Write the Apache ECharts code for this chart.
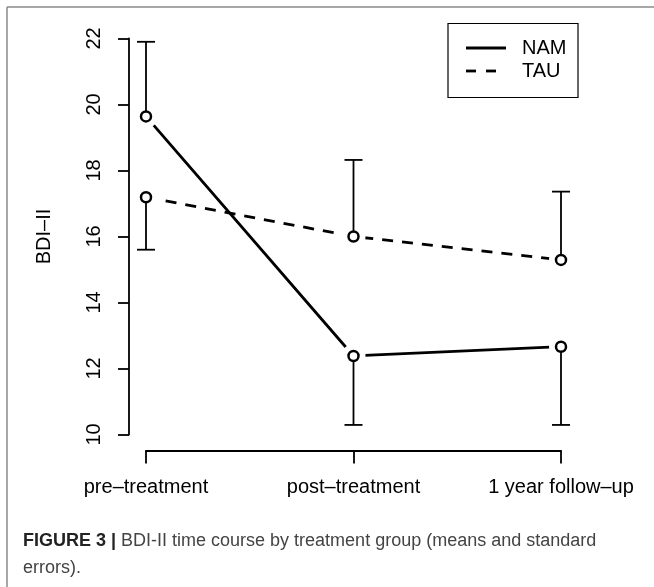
<!DOCTYPE html>
<html><head><meta charset="utf-8">
<script src="https://cdn.jsdelivr.net/npm/echarts@6/dist/echarts.min.js"></script>
<style>html,body{margin:0;padding:0;background:#fff}#c{width:654px;height:587px}</style>
</head><body><div id="c"></div>
<script>
// ---- data ----
const categories = ['pre\u2013treatment', 'post\u2013treatment', '1 year follow\u2013up'];
const seriesNames = ['NAM', 'TAU'];
const namMean = [19.64, 12.38, 12.66];
const tauMean = [17.19, 16.00, 15.29];
const namErrEnd = [21.90, 10.29, 10.29];
const tauErrEnd = [15.60, 18.32, 17.36];
const yMin = 10, yMax = 22, yStep = 2;
const yTitle = 'BDI\u2013II';
const captionBold = 'FIGURE 3 |';
const captionRest = ' BDI-II time course by treatment group (means and standard';
const captionLine2 = 'errors).';

const FONT = '"Liberation Sans", Arial, Helvetica, sans-serif';
const chart = echarts.init(document.getElementById('c'), null, {renderer: 'canvas'});

function errRender(params, api) {
  const p0 = api.coord([api.value(0), api.value(1)]);
  const p1 = api.coord([api.value(0), api.value(2)]);
  const cap = 9;
  const st = {stroke: '#000', lineWidth: 1.8};
  return {type: 'group', children: [
    {type: 'line', shape: {x1: p0[0], y1: p0[1], x2: p1[0], y2: p1[1]}, style: st},
    {type: 'line', shape: {x1: p1[0] - cap, y1: p1[1], x2: p1[0] + cap, y2: p1[1]}, style: st}
  ]};
}
const errData = (mean, end) => categories.map((c, i) => [i, mean[i], end[i]]);

const lineSeries = (name, data, type) => ({
  name, type: 'line', data, symbol: 'none', z: 2, silent: true,
  lineStyle: {color: '#000', width: 2.8, type: type}
});
const discSeries = (data) => ({
  type: 'scatter', data, symbol: 'circle', symbolSize: 24, z: 3, silent: true,
  itemStyle: {color: '#fff', opacity: 1}
});
const ringSeries = (data) => ({
  type: 'scatter', data, symbol: 'circle', symbolSize: 10, z: 5, silent: true,
  itemStyle: {color: '#fff', borderColor: '#000', borderWidth: 2.5, opacity: 1}
});
const errSeries = (mean, end) => ({
  type: 'custom', renderItem: errRender, data: errData(mean, end), z: 4, silent: true, clip: false,
  encode: {x: 0, y: [1, 2]}
});

const option = {
  animation: false,
  backgroundColor: '#fff',
  grid: {left: 146, top: 38.5, width: 415, height: 396, containLabel: false},
  xAxis: {
    type: 'category', data: categories, boundaryGap: false, offset: 16,
    axisLine: {show: true, lineStyle: {color: '#000', width: 1.8}},
    axisTick: {show: true, length: 13, lineStyle: {color: '#000', width: 1.8}},
    axisLabel: {interval: 0, fontSize: 20, color: '#000', fontFamily: FONT, margin: 27},
    splitLine: {show: false}
  },
  yAxis: {
    type: 'value', min: yMin, max: yMax, interval: yStep, offset: 17,
    name: yTitle, nameLocation: 'middle', nameRotate: 90, nameGap: 75,
    nameTextStyle: {fontSize: 20, color: '#000', fontFamily: FONT},
    axisLine: {show: true, lineStyle: {color: '#000', width: 1.8}},
    axisTick: {show: true, length: 11, lineStyle: {color: '#000', width: 1.8}},
    axisLabel: {rotate: 90, fontSize: 20, color: '#000', fontFamily: FONT, margin: 25},
    splitLine: {show: false}
  },
  series: [
    lineSeries(seriesNames[0], namMean, 'solid'),
    lineSeries(seriesNames[1], tauMean, [11, 9]),
    discSeries(namMean), discSeries(tauMean),
    errSeries(namMean, namErrEnd), errSeries(tauMean, tauErrEnd),
    ringSeries(namMean), ringSeries(tauMean)
  ],
  graphic: [
    // outer frame (top & left edges)
    {type: 'line', shape: {x1: 7, y1: 7, x2: 654, y2: 7}, style: {stroke: '#8a8a8a', lineWidth: 1.5}},
    {type: 'line', shape: {x1: 7, y1: 7, x2: 7, y2: 587}, style: {stroke: '#8a8a8a', lineWidth: 1.5}},
    // legend box
    {type: 'rect', shape: {x: 448, y: 23.5, width: 130, height: 74}, style: {fill: '#fff', stroke: '#000', lineWidth: 1.2}},
    {type: 'line', shape: {x1: 466, y1: 48, x2: 506, y2: 48}, style: {stroke: '#000', lineWidth: 2.8}},
    {type: 'line', shape: {x1: 466, y1: 71, x2: 506, y2: 71}, style: {stroke: '#000', lineWidth: 2.8, lineDash: [10, 10]}},
    {type: 'text', x: 522, y: 48, style: {text: seriesNames[0], fontSize: 20, fontFamily: FONT, fill: '#000', verticalAlign: 'middle'}},
    {type: 'text', x: 522, y: 71, style: {text: seriesNames[1], fontSize: 20, fontFamily: FONT, fill: '#000', verticalAlign: 'middle'}},
    // caption
    {type: 'text', x: 23, y: 541, style: {
      text: '{b|' + captionBold + '}{r|' + captionRest + '}', verticalAlign: 'middle',
      rich: {
        b: {fontSize: 18, fontWeight: 'bold', fontFamily: FONT, fill: '#222'},
        r: {fontSize: 18, fontFamily: FONT, fill: '#444'}
      }
    }},
    {type: 'text', x: 23, y: 568, style: {text: captionLine2, fontSize: 18, fontFamily: FONT, fill: '#444', verticalAlign: 'middle'}}
  ]
};
chart.setOption(option);
</script>
</body></html>
